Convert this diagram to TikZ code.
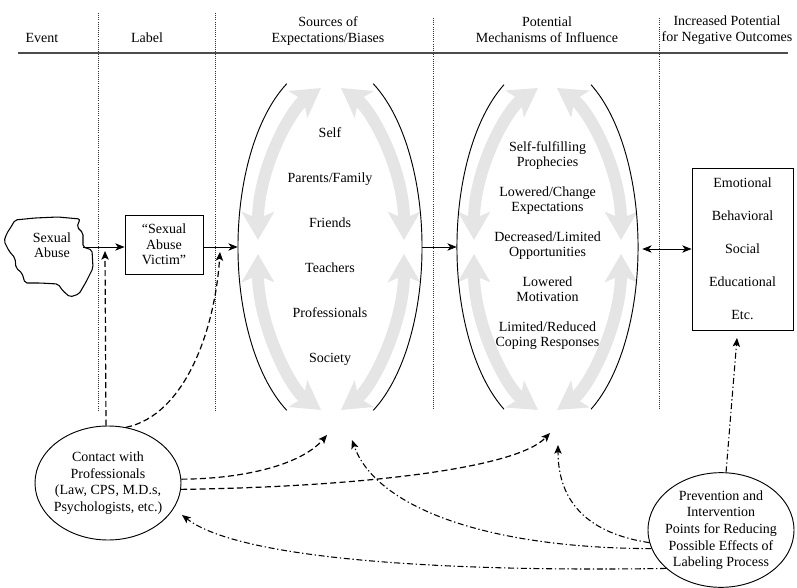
\documentclass[tikz,border=0pt]{standalone}
\usepackage{fontspec}
\setmainfont{Liberation Serif}
\usetikzlibrary{arrows.meta,shapes.geometric}
\begin{document}
\begin{tikzpicture}[x=0.75pt,y=-0.75pt,
  hdr/.style={font=\fontsize{10.5}{12}\selectfont, align=center, inner sep=0pt},
  vsep/.style={densely dotted, line width=0.6pt, black!80},
  hline/.style={line width=1.4pt, black!70},
  flow/.style={line width=0.6pt, -{Stealth[length=7pt,width=5.5pt,inset=2pt]}},
  dflow/.style={line width=0.6pt, {Stealth[length=7pt,width=5.5pt,inset=2pt]}-{Stealth[length=7pt,width=5.5pt,inset=2pt]}},
  cdash/.style={line width=0.9pt, dash pattern=on 4.5pt off 2.5pt, -{Stealth[length=6.5pt,width=5.5pt,inset=1.5pt]}},
  pdash/.style={line width=0.8pt, dash pattern=on 4.5pt off 2pt on 1pt off 2pt, -{Stealth[length=6.5pt,width=5.5pt,inset=1.5pt]}},
  garrow/.style={line width=9pt, black!10, {Stealth[length=21pt,width=24pt,inset=5pt]}-{Stealth[length=21pt,width=24pt,inset=5pt]}},
  bracket/.style={line width=0.7pt},
  box/.style={draw, line width=0.7pt, align=center, inner sep=0pt},
  oval/.style={ellipse, draw, line width=0.7pt, align=center, inner ysep=0pt, inner xsep=-4pt},
  region/.style={ellipse, align=center, inner sep=0pt}
]
\useasboundingbox (0,0) rectangle (797,588);

% header
\node[hdr] (hEvent) at (42,38) {Event};
\node[hdr] (hLabel) at (147,38) {Label};
\node[hdr] (hSrc) at (328,31) {Sources of\\Expectations/Biases};
\node[hdr] (hMech) at (547,30) {Potential\\Mechanisms of Influence};
\node[hdr] (hOut) at (727,30) {Increased Potential\\for Negative Outcomes};
\draw[hline] (18,53) -- (788,53);

% column separators
\draw[vsep] (98,13) -- (98,410);
\draw[vsep] (215,13) -- (215,410);
\draw[vsep] (433,18) -- (433,410);
\draw[vsep] (659,18) -- (659,410);

% gray circular arrows, sources
\draw[garrow] (258,240) .. controls (258,170) and (290,110) .. (321,88);
\draw[garrow] (404,240) .. controls (404,170) and (372,110) .. (341,88);
\draw[garrow] (258,254) .. controls (258,324) and (290,388) .. (321,410);
\draw[garrow] (404,254) .. controls (404,324) and (372,388) .. (341,410);
% gray circular arrows, mechanisms
\draw[garrow] (474,240) .. controls (474,170) and (506,110) .. (538,88);
\draw[garrow] (621,240) .. controls (621,170) and (589,110) .. (557,88);
\draw[garrow] (474,254) .. controls (474,324) and (506,388) .. (538,410);
\draw[garrow] (621,254) .. controls (621,324) and (589,388) .. (557,410);

% sources region
\node[region, minimum width=138pt, minimum height=277.5pt,
      font=\fontsize{10.5}{33.75}\selectfont] (src) at (330,247)
  {Self\\Parents/Family\\Friends\\Teachers\\Professionals\\Society};
\draw[bracket] (286.8,83.7) arc[start angle=-118, end angle=-242, x radius=92, y radius=185];
\draw[bracket] (373.2,83.7) arc[start angle=-62, end angle=62, x radius=92, y radius=185];

% mechanisms region
\node[region, minimum width=135.75pt, minimum height=277.5pt,
      font=\fontsize{10.5}{11.25}\selectfont] (mech) at (547.5,246)
  {Self-fulfilling\\Prophecies\\[11.25pt]Lowered/Change\\Expectations\\[11.25pt]Decreased/Limited\\Opportunities\\[11.25pt]Lowered\\Motivation\\[11.25pt]Limited/Reduced\\Coping Responses};
\draw[bracket] (504,84.7) arc[start angle=-118.7, end angle=-241.3, x radius=90.5, y radius=185];
\draw[bracket] (591,84.7) arc[start angle=-61.3, end angle=61.3, x radius=90.5, y radius=185];

% event shape
\draw[line width=0.8pt, rounded corners=1.5pt]
  (15,220) -- (35,218) -- (58,217) -- (80,219) -- (77,227) -- (83,233) -- (83,247)
  -- (92,250) -- (93,268) -- (86,282) -- (79,294) -- (70,297) -- (63,291) -- (58,284)
  -- (40,283) -- (25,283) -- (22,273) -- (16,268) -- (15,258) -- (9,251) -- (4,241)
  -- (7,233) -- (11,227) -- cycle;
\node[hdr, font=\fontsize{10.5}{11.25}\selectfont] (sa) at (52,245) {Sexual\\Abuse};
\coordinate (saR) at (83,247);

% label box
\node[box, minimum width=58.5pt, minimum height=44.25pt,
      font=\fontsize{10.5}{11.6}\selectfont] (label) at (164,244.5)
  {“Sexual\\Abuse\\Victim”};

% outcomes box
\node[box, minimum width=75.75pt, minimum height=121.5pt,
      font=\fontsize{10.5}{24.75}\selectfont] (outcome) at (742.5,249)
  {Emotional\\Behavioral\\Social\\Educational\\Etc.};

% main flow
\draw[flow] (saR) -- (saR -| label.west);
\draw[flow] (label.east |- saR) -- (saR -| src.west);
\draw[flow] (src.east |- saR) -- (saR -| mech.west);
\draw[dflow] ([xshift=3pt]mech.east |- 0,249) -- (outcome.west |- 0,249);

% contact ellipse
\node[oval, minimum width=109.5pt, minimum height=85.5pt,
      font=\fontsize{10.5}{12.5}\selectfont] (contact) at (108,483)
  {Contact with\\Professionals\\(Law, CPS, M.D.s,\\Psychologists, etc.)};

% prevention ellipse
\node[oval, minimum width=109.5pt, minimum height=86pt,
      font=\fontsize{10.5}{12.5}\selectfont] (prev) at (721,530)
  {Prevention and\\Intervention\\Points for Reducing\\Possible Effects of\\Labeling Process};

% free ends
\coordinate (t1) at (105,251);
\coordinate (t2) at (220,252);
\coordinate (t3) at (327,435);
\coordinate (t4) at (550,433);
\coordinate (t5) at (558,445);
\coordinate (t6) at (352,440);
\coordinate (t7) at (182,515);
\coordinate (t8) at (737,338);

% contact arrows
\draw[cdash] (contact.92) -- (t1);
\draw[cdash] (contact.72) .. controls (185,415) and (215,330) .. (t2);
\draw[cdash] (contact.3) .. controls (240,479) and (300,466) .. (t3);
\draw[cdash] (contact.-5) .. controls (350,487) and (515,470) .. (t4);

% prevention arrows
\draw[pdash] (prev.190) .. controls (580,532) and (558,495) .. (t5);
\draw[pdash] (prev.195) .. controls (480,548) and (375,505) .. (t6);
\draw[pdash] (prev.215) .. controls (450,572) and (240,560) .. (t7);
\draw[pdash] (prev.85) -- (t8);
\end{tikzpicture}
\end{document}
